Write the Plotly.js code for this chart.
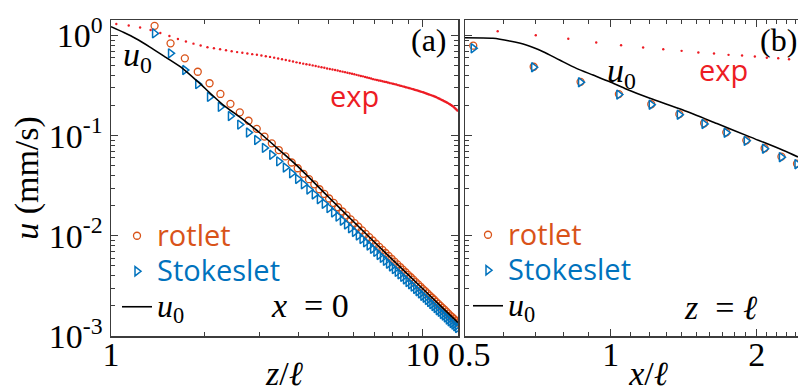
<!DOCTYPE html>
<html><head><meta charset="utf-8">
<script src="https://cdn.plot.ly/plotly-3.0.1.min.js"></script>
<style>html,body{margin:0;padding:0;background:#fff}#chart{width:798px;height:392px}</style>
</head><body><div id="chart"></div>
<script>
// ---------- Panel (a): x = 0, values vs z/l ----------
const zA = [1.380,1.553,1.726,1.899,2.072,2.245,2.418,2.591,2.764,2.937,
  3.110,3.283,3.456,3.629,3.802,3.975,4.148,4.321,4.494,4.667,
  4.840,5.013,5.186,5.359,5.532,5.705,5.878,6.051,6.224,6.397,
  6.570,6.743,6.916,7.089,7.262,7.435,7.608,7.781,7.954,8.127,
  8.300,8.473,8.646,8.819,8.992,9.165,9.338,9.511,9.684,9.857,
  10.030,10.203,10.376,10.549,10.722,10.895,11.068,11.241,11.414,11.587,
  11.760,11.933,12.106,12.279,12.452,12.625,12.798,12.971];
const rotletA = [1.25,0.836,0.592,0.435,0.334,0.261,0.208,0.171,0.141,0.117,
  0.098,0.0839,0.0719,0.0621,0.0540,0.0473,0.0416,0.0368,0.0327,0.0292,
  0.0262,0.0236,0.0213,0.0193,0.0175,0.0160,0.01462,0.01340,0.01232,0.01134,
  0.01047,0.00969,0.00898,0.00834,0.00775,0.00723,0.00674,0.00630,0.00590,0.00553,
  0.00519,0.00488,0.00460,0.00433,0.00408,0.00386,0.00365,0.00345,0.00327,0.00310,
  0.00294,0.00280,0.00266,0.00253,0.00241,0.00230,0.00219,0.00209,0.00200,0.00191,
  0.00183,0.00175,0.00167,0.00160,0.00154,0.00148,0.00142,0.00136];
const stokesA = [1.05,0.664,0.452,0.327,0.244,0.194,0.157,0.129,0.1075,0.0905,
  0.0755,0.0644,0.0554,0.0481,0.0421,0.0370,0.0327,0.0290,0.0259,0.0232,
  0.0209,0.0189,0.0171,0.01556,0.01416,0.01298,0.01190,0.01094,0.01008,0.00930,
  0.00862,0.00800,0.00743,0.00692,0.00644,0.00603,0.00563,0.00527,0.00495,0.00465,
  0.00437,0.00412,0.00389,0.00367,0.00346,0.00328,0.00311,0.00295,0.00280,0.00266,
  0.00252,0.00241,0.00229,0.00218,0.00208,0.00199,0.00190,0.00181,0.00174,0.00166,
  0.00160,0.00153,0.00146,0.00140,0.00135,0.00130,0.00125,0.00120];
const u0zA = [1.0,1.1,1.2,1.33,1.5,1.7,1.9,2.1,2.3,2.6,3.0,3.5,4.0,5.0,6.0,8.0,10.0,13.0];
const u0vA = [1.225,1.07,0.933,0.771,0.605,0.468,0.346,0.259,0.201,0.152,0.107,0.0703,0.0485,0.0243,0.0139,0.0058,0.00298,0.00136];
const expZA = [1.04,1.14,1.24,1.34,1.44,1.54,1.64,1.74,1.84,1.94,
  2.04,2.14,2.24,2.34,2.44,2.54,2.64,2.74,2.84,2.94,
  3.04,3.14,3.24,3.34,3.44,3.54,3.64,3.74,3.84,3.94,
  4.04,4.14,4.24,4.34,4.44,4.54,4.64,4.74,4.84,4.94,
  5.04,5.14,5.24,5.34,5.44,5.54,5.64,5.74,5.84,5.94,
  6.04,6.14,6.24,6.34,6.44,6.54,6.64,6.74,6.84,6.94,
  7.04,7.14,7.24,7.34,7.44,7.54,7.64,7.74,7.84,7.94,
  8.04,8.14,8.24,8.34,8.44,8.54,8.64,8.74,8.84,8.94,
  9.04,9.14,9.24,9.34,9.44,9.54,9.64,9.74,9.84,9.94,
  10.04,10.14,10.24,10.34,10.44,10.54,10.64,10.74,10.84,10.94,
  11.04,11.14,11.24,11.34,11.44,11.54,11.64,11.74,11.84,11.94,
  12.04,12.14,12.24,12.34,12.44,12.54,12.64,12.74,12.84,12.94];
const expVA = [1.303,1.259,1.202,1.135,1.059,0.989,0.923,0.871,0.830,0.794,
  0.764,0.746,0.729,0.713,0.697,0.683,0.673,0.662,0.652,0.642,
  0.632,0.622,0.612,0.601,0.590,0.580,0.570,0.560,0.550,0.540,
  0.532,0.524,0.517,0.510,0.503,0.496,0.489,0.483,0.476,0.469,
  0.463,0.458,0.452,0.447,0.441,0.436,0.431,0.425,0.420,0.415,
  0.410,0.405,0.400,0.395,0.391,0.386,0.381,0.376,0.372,0.367,
  0.363,0.360,0.356,0.353,0.350,0.346,0.343,0.340,0.336,0.333,
  0.330,0.327,0.324,0.320,0.317,0.314,0.311,0.308,0.305,0.302,
  0.299,0.2965,0.2936,0.2907,0.2878,0.2850,0.2822,0.2794,0.2766,0.2739,
  0.2711,0.2682,0.2653,0.2624,0.2596,0.2568,0.2541,0.2513,0.2486,0.2460,
  0.2431,0.2399,0.2366,0.2335,0.2304,0.2273,0.2243,0.2213,0.2184,0.2155,
  0.2124,0.2090,0.2057,0.2024,0.1992,0.1954,0.1910,0.1866,0.1824,0.1782];

// ---------- Panel (b): z = l, values vs x/l ----------
const xB = [0.52,0.693,0.866,1.039,1.212,1.385,1.558,1.731,1.904,2.077,2.25,2.423];
const rotletB = [0.791,0.488,0.345,0.26,0.206,0.164,0.133,0.108,0.0898,0.075,0.0617,0.0525];
const stokesB = [0.745,0.482,0.341,0.257,0.204,0.162,0.131,0.107,0.0888,0.0741,0.061,0.0519];
const u0xB = [0.5,0.571,0.618,0.669,0.725,0.784,0.849,0.919,0.995,1.069,1.204,1.409,1.656,1.937,2.267,2.434];
const u0vB = [0.95,0.938,0.881,0.804,0.689,0.569,0.47,0.403,0.345,0.296,0.236,0.18,0.132,0.0973,0.0716,0.0614];
const expXB = [0.584,0.700,0.817,0.933,1.050,1.166,1.283,1.400,1.516,1.633,1.750,1.866,1.983,2.099,2.216,2.333];
const expVB = [1.104,1.007,0.927,0.851,0.800,0.759,0.729,0.703,0.676,0.661,0.641,0.631,0.617,0.599,0.593,0.579];

// ---------- ticks ----------
const yTickVals = [0.001,0.01,0.1,1];
const yTickText = ['10<sup>-3</sup>','10<sup>-2</sup>','10<sup>-1</sup>','10<sup>0</sup>'];
const yMinor = [0.002,0.003,0.004,0.005,0.006,0.007,0.008,0.009,0.02,0.03,0.04,0.05,0.06,0.07,0.08,0.09,0.2,0.3,0.4,0.5,0.6,0.7,0.8,0.9];
const xTickValsA = [1,10];
const xTickTextA = ['1','10'];
const xMinorA = [2,3,4,5,6,7,8,9];
const xTickValsB = [0.5,1,2];
const xTickTextB = ['&nbsp;0.5','1','2'];
const xMinorB = [0.6,0.7,0.8,0.9,1.1,1.2,1.3,1.4,1.5,1.6,1.7,1.8,1.9,2.1,2.2,2.3,2.4];

// ---------- styling ----------
const L=111, T=20, R=798, B=336, PW=R-L, PH=B-T;
const fx = p => (p-L)/PW, fy = p => (B-p)/PH;
const serif = "'Liberation Serif', 'Times New Roman', serif";
const sans = "'Open Sans', 'Noto Sans', sans-serif";
const ORANGE = '#D95319', BLUE = '#0072BD', RED = 'rgb(237,28,36)', AX = '#3c3c3c';

const nmRot = '<span style="color:'+ORANGE+';font-size:29px">rotlet</span>';
const nmSto = '<span style="color:'+BLUE+';font-size:29px">Stokeslet</span>';
const nmU0 = '<span style="font-family:\'Liberation Serif\';font-size:32px"><i>u</i><sub>0</sub></span>';

const rotMk = {symbol:'circle-open', size:7, color:ORANGE, line:{width:1.3, color:ORANGE}};
const stoMk = {symbol:'triangle-right-open', size:8, color:BLUE, line:{width:1.5, color:BLUE}};

const traces = [
  {x:zA, y:rotletA, xaxis:'x', yaxis:'y', mode:'markers', marker:rotMk, name:nmRot, legend:'legend'},
  {x:zA, y:stokesA, xaxis:'x', yaxis:'y', mode:'markers', marker:stoMk, name:nmSto, legend:'legend'},
  {x:u0zA, y:u0vA, xaxis:'x', yaxis:'y', mode:'lines', line:{color:'#000', width:1.6, shape:'spline', smoothing:0.7}, name:nmU0, legend:'legend'},
  {x:expZA, y:expVA, xaxis:'x', yaxis:'y', mode:'markers', marker:{size:2.4, color:RED}, showlegend:false, name:'exp'},
  {x:xB, y:rotletB, xaxis:'x2', yaxis:'y2', mode:'markers', marker:rotMk, name:nmRot, legend:'legend2'},
  {x:xB, y:stokesB, xaxis:'x2', yaxis:'y2', mode:'markers', marker:stoMk, name:nmSto, legend:'legend2'},
  {x:u0xB, y:u0vB, xaxis:'x2', yaxis:'y2', mode:'lines', line:{color:'#000', width:1.6, shape:'spline', smoothing:0.7}, name:nmU0, legend:'legend2'},
  {x:expXB, y:expVB, xaxis:'x2', yaxis:'y2', mode:'markers', marker:{size:2.4, color:RED}, showlegend:false, name:'exp'}
];

function ax(extra){
  return Object.assign({type:'log', showline:true, linecolor:AX, linewidth:1.5, ticks:'inside', ticklen:7,
    tickwidth:1.2, tickcolor:AX, showgrid:false, zeroline:false, automargin:false,
    tickfont:{family:serif, size:34, color:'#000'}}, extra);
}
function minor(vals){ return {tickmode:'array', tickvals:vals, ticks:'inside', ticklen:4, tickwidth:1, tickcolor:AX, showgrid:false}; }

const legBase = {xanchor:'left', yanchor:'top', bgcolor:'rgba(0,0,0,0)', borderwidth:0,
  font:{family:sans, size:25, color:'#000'}, itemwidth:30, tracegroupgap:0};

const ann = (px,py,text,font) => ({x:fx(px), y:fy(py), xref:'paper', yref:'paper', text:text, showarrow:false, xanchor:'center', yanchor:'middle', font:font});
const mathF = {family:serif, size:34, color:'#000'};
const expF = {family:sans, size:29, color:RED};

const layout = {
  width:798, height:392, margin:{l:L, r:0, t:T, b:392-B, pad:0},
  paper_bgcolor:'#fff', plot_bgcolor:'#fff', showlegend:true,
  xaxis: ax({domain:[0,(458-L)/PW], range:[0, Math.log10(13)], anchor:'y', mirror:'ticks',
    tickmode:'array', tickvals:xTickValsA, ticktext:xTickTextA, minor:minor(xMinorA), ticklabelstandoff:-12,
    title:{text:'<i>z</i>/<i>ℓ</i>', font:mathF, standoff:8}}),
  yaxis: ax({domain:[0,1], range:[-3,0.155], anchor:'x', mirror:'ticks',
    tickmode:'array', tickvals:yTickVals, ticktext:yTickText, minor:minor(yMinor),
    title:{text:'<i>u</i> (mm/s)', font:mathF, standoff:0}}),
  xaxis2: ax({domain:[(465-L)/PW,1], range:[Math.log10(0.5), 0.3864], anchor:'y2', mirror:'ticks',
    tickmode:'array', tickvals:xTickValsB, ticktext:xTickTextB, minor:minor(xMinorB), ticklabelstandoff:-12,
    title:{text:'&nbsp;&nbsp;&nbsp;&nbsp;<i>x</i>/<i>ℓ</i>', font:mathF, standoff:8}}),
  yaxis2: ax({domain:[0,1], range:[-3,0.155], anchor:'x2', mirror:false,
    tickmode:'array', tickvals:yTickVals, ticktext:yTickText, showticklabels:false, minor:minor(yMinor)}),
  legend: Object.assign({x:fx(117), y:fy(213)}, legBase),
  legend2: Object.assign({x:fx(468), y:fy(212)}, legBase),
  annotations: [
    ann(429,40,'(a)',{family:serif,size:32,color:'#000'}),
    ann(778,40,'(b)',{family:serif,size:32,color:'#000'}),
    ann(137,57,'<i>u</i><sub>0</sub>',mathF),
    ann(621,73,'<i>u</i><sub>0</sub>',mathF),
    ann(354,95,'exp',expF),
    ann(723,69,'exp',expF),
    ann(310,305,'<i>x</i>&nbsp;&nbsp;=&nbsp;0',mathF),
    ann(720,307,'<i>z</i>&nbsp;&nbsp;=&nbsp;<i>ℓ</i>',mathF)
  ]
};

Plotly.newPlot('chart', traces, layout, {displayModeBar:false, staticPlot:true});
</script></body></html>
